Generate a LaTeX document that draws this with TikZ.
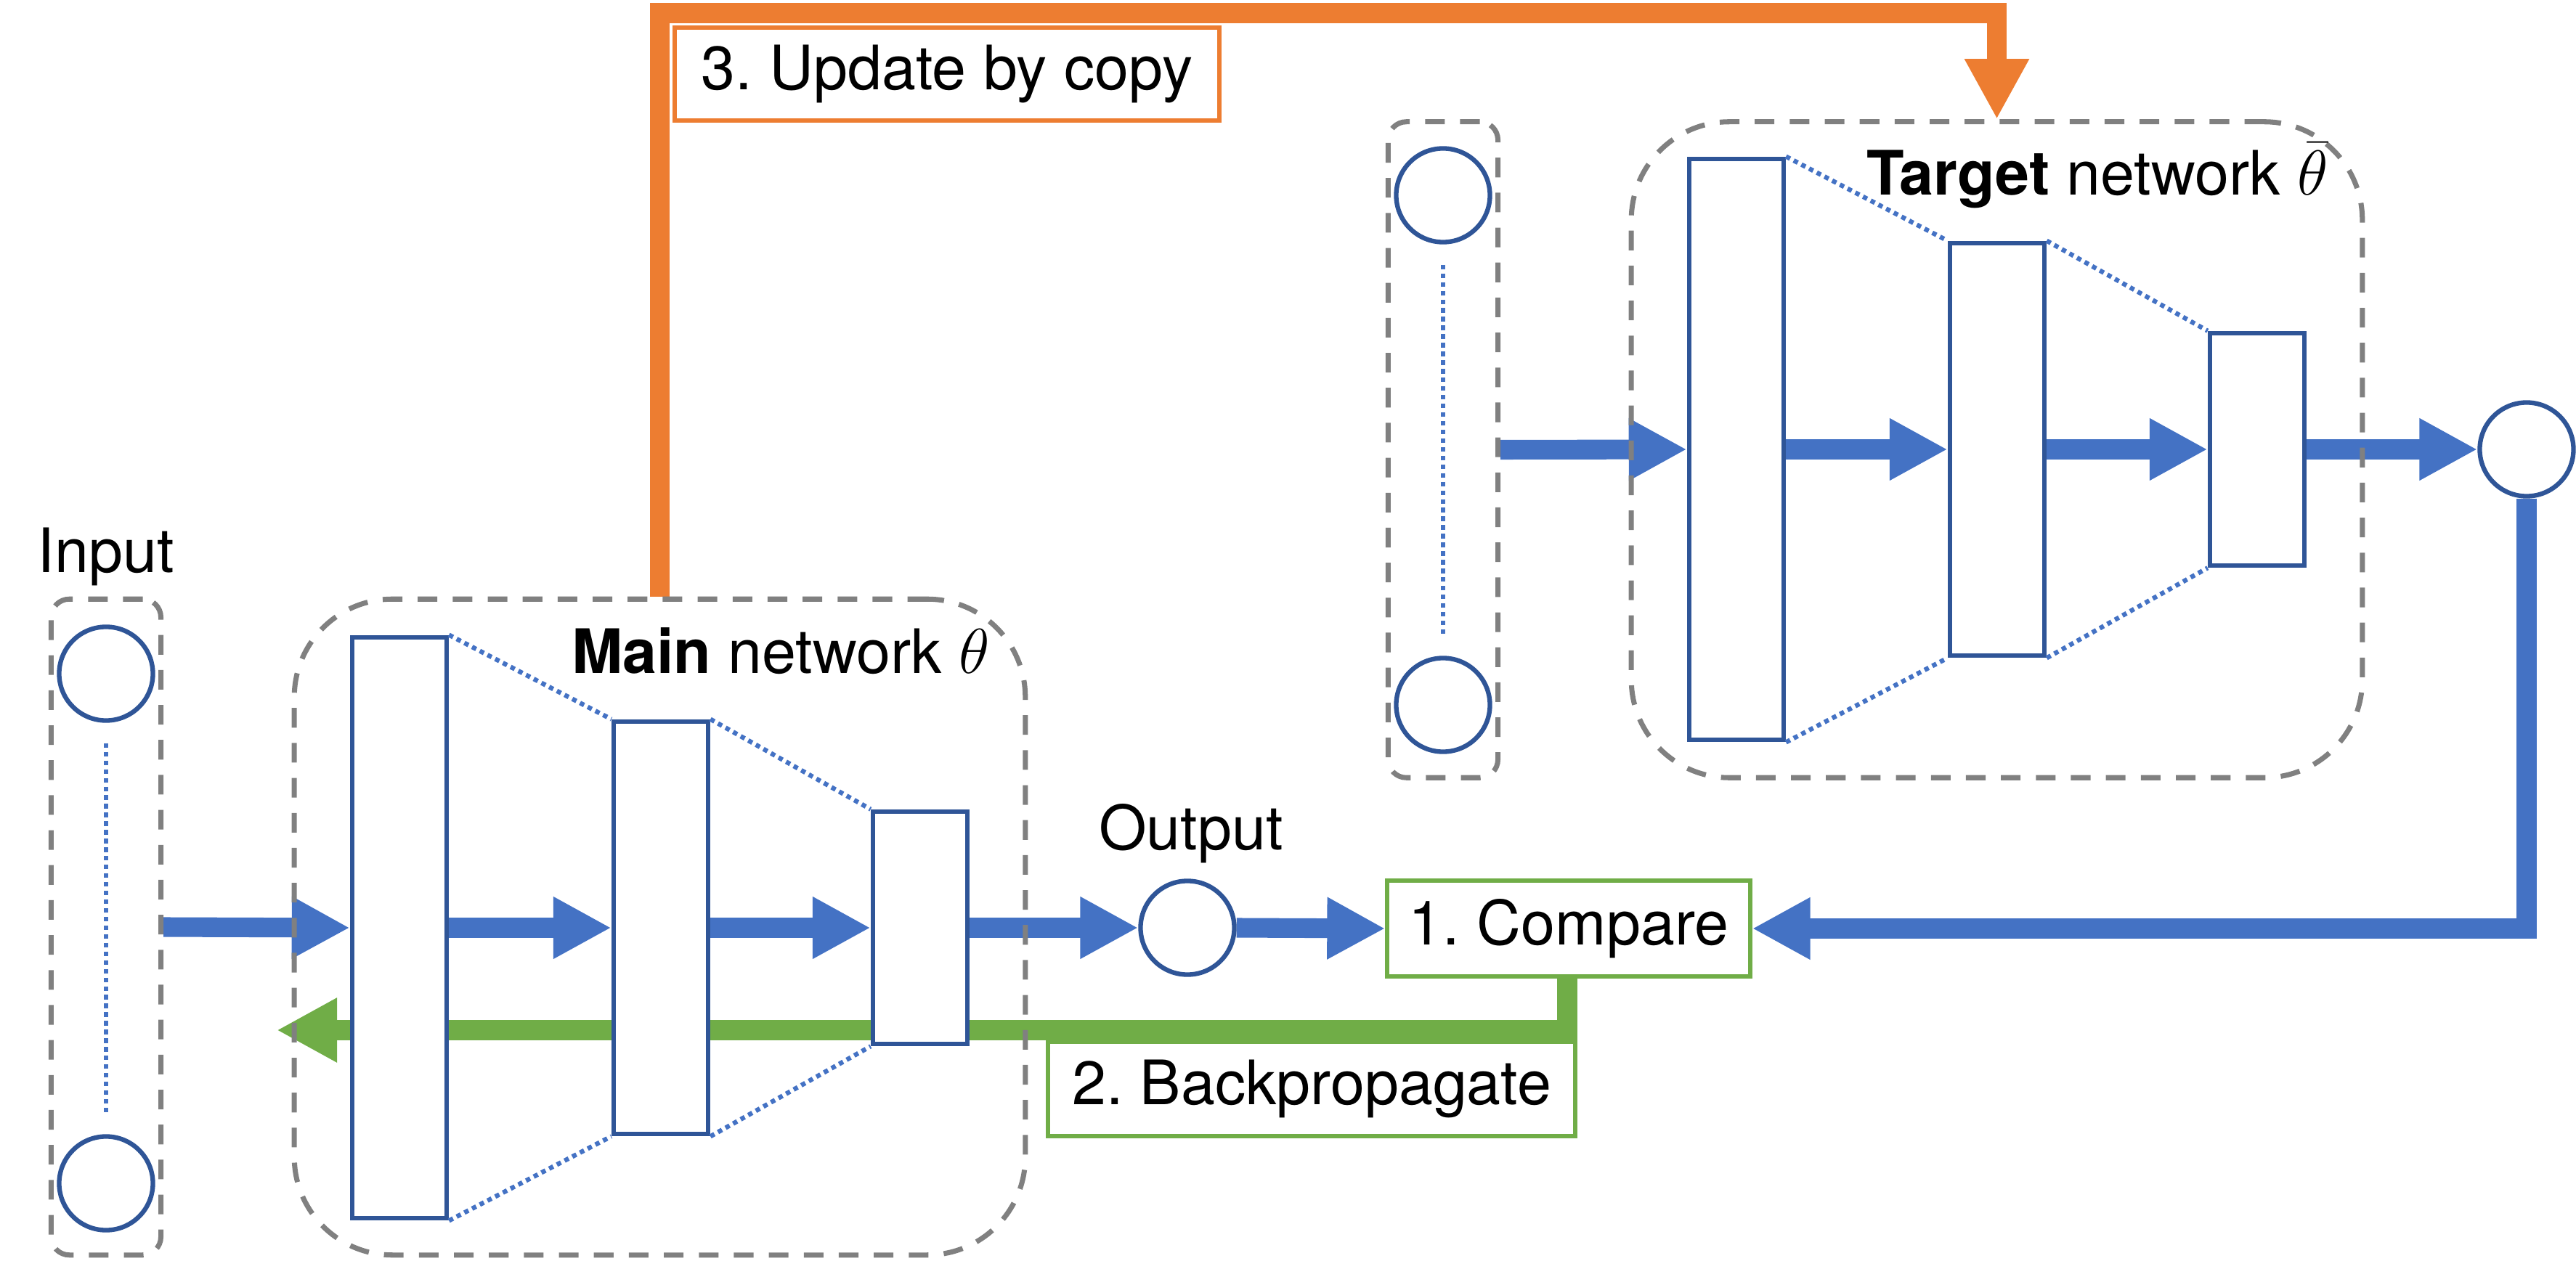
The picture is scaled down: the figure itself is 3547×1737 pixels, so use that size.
\documentclass[tikz,border=0pt]{standalone}
\usepackage{fontspec}
\setmainfont{TeX Gyre Heros}
\usetikzlibrary{arrows.meta}
\definecolor{nblue}{HTML}{2F5597}
\definecolor{ablue}{HTML}{4472C4}
\definecolor{dgray}{HTML}{808080}
\definecolor{ggreen}{HTML}{70AD47}
\definecolor{oorange}{HTML}{ED7D31}
\pgfdeclarelayer{bg}
\pgfsetlayers{bg,main}
\frenchspacing
\begin{document}
\begin{tikzpicture}[x=0.01cm, y=-0.01cm, font=\fontsize{24}{29}\selectfont,
  layer/.style={draw=nblue, fill=white, line width=1.8pt, minimum width=1.3cm, inner sep=0pt},
  neuron/.style={circle, draw=nblue, fill=white, line width=1.8pt, minimum size=1.29cm, inner sep=0pt},
  grp/.style={draw=dgray, line width=2pt, dash pattern=on 7.7pt off 6pt, inner sep=0pt},
  conn/.style={draw=ablue, line width=1.8pt, dash pattern=on 1.8pt off 1.6pt},
  flow/.style={draw=ablue, line width=7.7pt, -{Triangle[length=0.8cm,width=0.8cm]}},
  back/.style={draw=ggreen, line width=7.7pt, -{Triangle[length=0.83cm,width=0.83cm]}},
  upd/.style={draw=oorange, line width=7.7pt, -{Triangle[length=0.83cm,width=0.83cm]}},
  stepbox/.style={draw=#1, line width=1.7pt, fill=white, inner sep=0pt},
]
\useasboundingbox (0,0) rectangle (3547,1737);

% group boxes
\node[grp, rounded corners=0.25cm, minimum width=1.51cm, minimum height=9.03cm] (inbox) at (146,1277) {};
\node[grp, rounded corners=1.35cm, minimum width=10.06cm, minimum height=9.03cm] (mainbox) at (908.5,1277) {};
\node[grp, rounded corners=0.25cm, minimum width=1.51cm, minimum height=9.03cm] (tinbox) at (1987,619.5) {};
\node[grp, rounded corners=1.35cm, minimum width=10.06cm, minimum height=9.03cm] (tbox) at (2749.5,619.5) {};

% labels
\node[anchor=base] (inlbl) at (146,789) {Input};
\node[anchor=base] (outlbl) at (1640,1170) {Output};
\node[anchor=base] (mainlbl) at (1075,928) {\textbf{Main} network $\theta$};
\node[anchor=base] (tlbl) at (2888,269) {\textbf{Target} network $\bar{\theta}$};

% main network layers
\node[layer, minimum height=8.0cm] (m1) at (550,1278) {};
\node[layer, minimum height=5.68cm] (m2) at (910,1278) {};
\node[layer, minimum height=3.2cm] (m3) at (1267,1278) {};
% target network layers
\node[layer, minimum height=8.0cm] (t1) at (2391,619) {};
\node[layer, minimum height=5.68cm] (t2) at (2750,619) {};
\node[layer, minimum height=3.2cm] (t3) at (3108,619) {};

% neurons
\node[neuron] (in1) at (146,928) {};
\node[neuron] (in2) at (146,1630) {};
\node[neuron] (outc) at (1635,1278) {};
\node[neuron] (tin1) at (1987,269) {};
\node[neuron] (tin2) at (1987,971) {};
\node[neuron] (tout) at (3479,619) {};

% step boxes
\node[stepbox=ggreen, minimum width=4.99cm, minimum height=1.32cm] (cmp) at (2160,1279) {1. Compare};
\node[stepbox=ggreen, minimum width=7.26cm, minimum height=1.29cm] (bp) at (1806,1500) {2. Backpropagate};
\node[stepbox=oorange, minimum width=7.5cm, minimum height=1.28cm] (updbox) at (1304,102) {3. Update by copy};

% dotted connections
\draw[conn, shorten <=0.28cm, shorten >=0.3cm] (in1) -- (in2);
\draw[conn, shorten <=0.28cm, shorten >=0.3cm] (tin1) -- (tin2);
\draw[conn] (m1.north east) -- (m2.north west);
\draw[conn] (m1.south east) -- (m2.south west);
\draw[conn] (m2.north east) -- (m3.north west);
\draw[conn] (m2.south east) -- (m3.south west);
\draw[conn] (t1.north east) -- (t2.north west);
\draw[conn] (t1.south east) -- (t2.south west);
\draw[conn] (t2.north east) -- (t3.north west);
\draw[conn] (t2.south east) -- (t3.south west);

\begin{pgfonlayer}{bg}
\draw[flow] (inbox.east) -- (m1.west);
\draw[flow] (m1.east) -- (m2.west);
\draw[flow] (m2.east) -- (m3.west);
\draw[flow] (m3.east) -- (outc.west);
\draw[flow] (outc.east) -- (cmp.west);
\draw[flow] (tinbox.east) -- (t1.west);
\draw[flow] (t1.east) -- (t2.west);
\draw[flow] (t2.east) -- (t3.west);
\draw[flow] (t3.east) -- (tout.west);
\draw[flow] (tout.south) -- (tout.south |- cmp.east) -- (cmp.east);
\coordinate (gknee) at (2158,1419);
\coordinate (gtip) at (381,1419);
\draw[back] (cmp.south -| gknee) -- (gknee) -- (gtip);
\coordinate (otop) at (909,18);
\draw[upd] (mainbox.north) -- (mainbox.north |- otop) -| (tbox.north);
\end{pgfonlayer}
\end{tikzpicture}
\end{document}
